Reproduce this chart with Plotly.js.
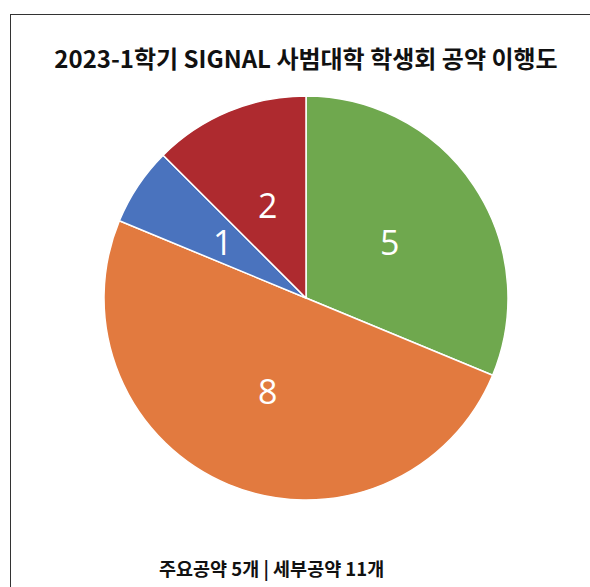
<!DOCTYPE html>
<html><head><meta charset="utf-8">
<script src="https://cdn.plot.ly/plotly-3.0.1.min.js"></script>
<style>
html,body{margin:0;padding:0;background:#fff;}
#wrap{position:relative;width:590px;height:587px;overflow:hidden;}
#frame{position:absolute;left:10px;top:14px;width:700px;height:700px;border:1.5px solid #333;pointer-events:none;box-sizing:border-box;}
#chart{position:absolute;left:0;top:0;width:590px;height:587px;}
</style></head>
<body><div id="wrap"><div id="chart"></div><div id="frame"></div></div>
<script>
var categories = ["완료", "진행 중", "미착수", "보류"];
var values = [5, 8, 1, 2];
var colors = ["#6FA84E", "#E27A3F", "#4A73BE", "#AE2A2F"];
var titleText = "2023-1학기 SIGNAL 사범대학 학생회 공약 이행도";
var footText = "주요공약 5개 | 세부공약 11개";

var W = 590, H = 587;
var cx = 306, cy = 298, R = 202;
var m = {l: cx - R, r: W - (cx + R), t: cy - R, b: H - (cy + R)};

// value labels placed at half radius on each slice's mid-angle (derived from values)
var total = values.reduce(function(a, b){ return a + b; }, 0);
var cum = 0;
var labelAnns = values.map(function(v){
  var mid = (cum + v / 2) / total * 2 * Math.PI;
  cum += v;
  return {
    text: String(v),
    xref: 'paper', yref: 'paper',
    x: 0.5 + 0.25 * Math.sin(mid),
    y: 0.5 + 0.25 * Math.cos(mid),
    xanchor: 'center', yanchor: 'middle',
    showarrow: false,
    font: {family: 'Open Sans, Liberation Sans, sans-serif', size: 34, color: '#ffffff'}
  };
});

Plotly.newPlot('chart', [{
  type: 'pie',
  labels: categories,
  values: values,
  sort: false,
  direction: 'clockwise',
  rotation: 0,
  marker: {colors: colors, line: {color: '#ffffff', width: 1.5}},
  textinfo: 'none',
  hoverinfo: 'label+value'
}], {
  width: W, height: H,
  margin: m,
  showlegend: false,
  paper_bgcolor: '#ffffff',
  title: {
    text: '<b>' + titleText + '</b>',
    x: cx / W, xanchor: 'center',
    y: 1 - 60 / H, yref: 'container', yanchor: 'middle',
    font: {family: 'Noto Sans CJK KR, Noto Sans, sans-serif', size: 24, color: '#111111'}
  },
  annotations: labelAnns.concat([{
    text: '<b>' + footText + '</b>',
    xref: 'paper', yref: 'paper',
    x: (271 - m.l) / (2 * R), xanchor: 'center',
    y: -(568 - (cy + R)) / (2 * R), yanchor: 'middle',
    showarrow: false,
    font: {family: 'Noto Sans CJK KR, Noto Sans, sans-serif', size: 18.5, color: '#111111'}
  }])
}, {displayModeBar: false, staticPlot: true});
</script></body></html>
